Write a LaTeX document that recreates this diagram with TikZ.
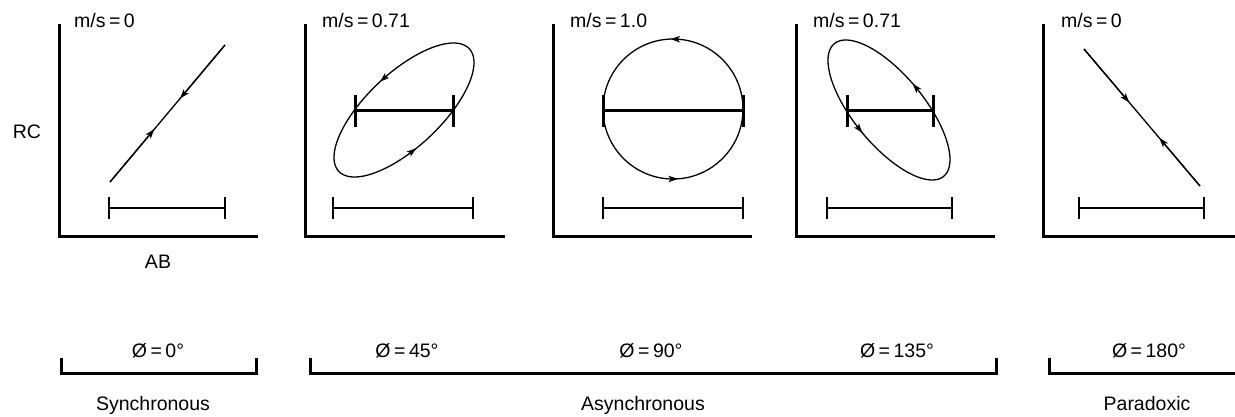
\documentclass[tikz,border=0pt]{standalone}
\usepackage{fontspec}
\setmainfont{Liberation Sans}
\usetikzlibrary{arrows.meta,calc}
\tikzset{
  lbl/.style={inner sep=0pt, font=\fontsize{19.5}{22}\selectfont},
  axisline/.style={line width=3pt, line join=miter},
  curveline/.style={line width=1.3pt},
  scalebar/.style={line width=1.3pt},
  boldbar/.style={line width=3pt},
  bracketline/.style={line width=3pt, line join=miter},
  tipline/.style={-{Stealth[length=9.5pt,width=6.5pt,inset=2.5pt]}, line width=1.3pt},
}
\newcommand\eqk{\kern3.5pt=\kern3.5pt}
\begin{document}
\begin{tikzpicture}[x=1pt,y=-1pt]
\useasboundingbox (0,0) rectangle (1235,416);

% ---------- axes ----------
\draw[axisline] (59,24) -- (59,236) -- (258,236);
\draw[axisline] (305.7,24) -- (305.7,236) -- (505,236);
\draw[axisline] (553,24) -- (553,236) -- (752,236);
\draw[axisline] (796,24) -- (796,236) -- (995,236);
\draw[axisline] (1043,24) -- (1043,236) -- (1236,236);

% ---------- scale bars ----------
\foreach \a/\b in {109/225, 333/473, 603/743, 827/952, 1079/1204}{
  \draw[scalebar] (\a,197) -- (\a,219);
  \draw[scalebar] (\b,197) -- (\b,219);
  \draw[scalebar] (\a,208) -- (\b,208);
}

% ---------- panel 1: synchronous line ----------
\coordinate (l1s) at (110,182);
\coordinate (l1e) at (225,45);
\draw[curveline] (l1s) -- (l1e);
\draw[tipline] (l1s) -- ($(l1s)!0.385!(l1e)$);
\draw[tipline] (l1e) -- ($(l1e)!0.39!(l1s)$);

% ---------- panel 2: ellipse 45 deg ----------
\draw[curveline] plot[domain=0:360,samples=144,smooth cycle] ({404+70*cos(\x)},{110-67*cos(\x-45)});
\draw[tipline] ({404+70*cos(104)},{110-67*cos(104-45)}) -- ({404+70*cos(110)},{110-67*cos(110-45)});
\draw[tipline] ({404+70*cos(274)},{110-67*cos(274-45)}) -- ({404+70*cos(280)},{110-67*cos(280-45)});
\draw[boldbar] (355,110) -- (453,110);
\draw[boldbar] (355,95) -- (355,127);
\draw[boldbar] (453,95) -- (453,127);

% ---------- panel 3: circle ----------
\draw[curveline] (673,109) circle[radius=70];
\draw[tipline] ({673+70*cos(86)},{109-70*sin(86)}) -- ({673+70*cos(92)},{109-70*sin(92)});
\draw[tipline] ({673+70*cos(268)},{109-70*sin(268)}) -- ({673+70*cos(274)},{109-70*sin(274)});
\draw[boldbar] (603,110) -- (743,110);
\draw[boldbar] (603,95) -- (603,127);
\draw[boldbar] (743,95) -- (743,127);

% ---------- panel 4: ellipse 135 deg ----------
\draw[curveline] plot[domain=0:360,samples=144,smooth cycle] ({889+61*cos(\x)},{110-70*cos(\x-135)});
\draw[tipline] ({889+61*cos(61)},{110-70*cos(61-135)}) -- ({889+61*cos(67)},{110-70*cos(67-135)});
\draw[tipline] ({889+61*cos(238)},{110-70*cos(238-135)}) -- ({889+61*cos(244)},{110-70*cos(244-135)});
\draw[boldbar] (847,110) -- (933,110);
\draw[boldbar] (847,95) -- (847,127);
\draw[boldbar] (933,95) -- (933,127);

% ---------- panel 5: paradoxic line ----------
\coordinate (l5s) at (1084,49);
\coordinate (l5e) at (1200,186);
\draw[curveline] (l5s) -- (l5e);
\draw[tipline] (l5s) -- ($(l5s)!0.39!(l5e)$);
\draw[tipline] (l5e) -- ($(l5e)!0.35!(l5s)$);

% ---------- labels ----------
\node[lbl, anchor=base west] (ms1) at (74,27) {m/s\eqk0};
\node[lbl, anchor=base west] (ms2) at (322,27) {m/s\eqk0.71};
\node[lbl, anchor=base west] (ms3) at (570,27) {m/s\eqk1.0};
\node[lbl, anchor=base west] (ms4) at (813,27) {m/s\eqk0.71};
\node[lbl, anchor=base west] (ms5) at (1061,27) {m/s\eqk0};
\node[lbl, anchor=base] (rc) at (27,138) {RC};
\node[lbl, anchor=base] (ab) at (158,268) {AB};

% ---------- brackets ----------
\draw[bracketline] (61,358) -- (61,373) -- (256,373) -- (256,358);
\draw[bracketline] (310,358) -- (310,373) -- (996,373) -- (996,358);
\draw[bracketline] (1049,358) -- (1049,373) -- (1236,373);

\node[lbl, anchor=base] (p0) at (158,357) {Ø\eqk0°};
\node[lbl, anchor=base] (p45) at (407,357) {Ø\eqk45°};
\node[lbl, anchor=base] (p90) at (651,357) {Ø\eqk90°};
\node[lbl, anchor=base] (p135) at (897,357) {Ø\eqk135°};
\node[lbl, anchor=base] (p180) at (1149,357) {Ø\eqk180°};

\node[lbl, anchor=base] (syn) at (153,410) {Synchronous};
\node[lbl, anchor=base] (asyn) at (643,410) {Asynchronous};
\node[lbl, anchor=base] (para) at (1147,410) {Paradoxic};
\end{tikzpicture}
\end{document}
